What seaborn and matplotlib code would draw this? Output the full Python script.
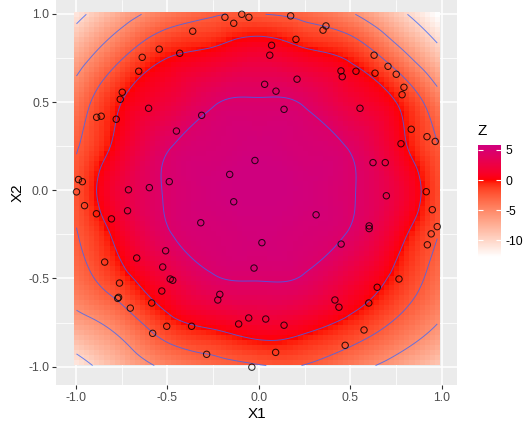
import numpy as np
import pandas as pd
import matplotlib
matplotlib.use("Agg")
import matplotlib.pyplot as plt
import matplotlib.tri as mtri
from matplotlib.colors import ListedColormap, Normalize
import seaborn as sns

# ---------------- data ----------------
X1 = [-0.185, -0.093, -0.054, -0.137, -0.361, -0.544, -0.432, -0.637, -0.656, -0.746,
      -0.757, -0.602, -0.886, -0.861, -0.779, -0.312, -0.450, 0.174, 0.367, 0.351,
      0.203, 0.070, 0.060, 0.630, 0.706, 0.751, 0.449, 0.456, 0.531, 0.635,
      0.209, 0.032, 0.094, 0.793, 0.783, 0.138, 0.553, 0.833, -0.021, -0.159,
      -0.985, -0.964, -0.996, -0.712, -0.598, -0.489, -0.137, -0.952, -0.887, -0.805,
      -0.717, -0.317, -0.509, 0.017, 0.919, 0.964, 0.777, 0.624, 0.691, 0.697,
      0.915, 0.948, 0.975, 0.942, 0.921, 0.313, 0.603, 0.603, 0.450, -0.842,
      -0.667, -0.525, -0.484, -0.470, -0.026, -0.761, -0.771, -0.766, -0.530, -0.213,
      -0.224, -0.702, -0.585, -0.055, -0.110, -0.503, -0.367, -0.580, -0.285, -0.038,
      0.766, 0.647, 0.416, 0.438, 0.601, 0.038, 0.138, 0.575, 0.472, 0.092]
X2 = [0.981, 0.998, 0.981, 0.947, 0.902, 0.800, 0.777, 0.754, 0.675, 0.556,
      0.516, 0.465, 0.414, 0.420, 0.403, 0.425, 0.336, 0.989, 0.932, 0.908,
      0.856, 0.822, 0.766, 0.766, 0.703, 0.658, 0.677, 0.644, 0.675, 0.664,
      0.630, 0.601, 0.562, 0.584, 0.542, 0.459, 0.465, 0.346, 0.169, 0.090,
      0.061, 0.049, -0.009, 0.003, 0.015, 0.049, -0.065, -0.087, -0.133, -0.162,
      -0.116, -0.184, -0.343, -0.297, 0.304, 0.277, 0.264, 0.157, 0.157, -0.031,
      -0.008, -0.110, -0.206, -0.247, -0.309, -0.139, -0.202, -0.217, -0.305, -0.407,
      -0.384, -0.435, -0.503, -0.510, -0.441, -0.526, -0.613, -0.607, -0.571, -0.590,
      -0.622, -0.668, -0.639, -0.724, -0.758, -0.771, -0.771, -0.811, -0.930, -1.003,
      -0.503, -0.550, -0.622, -0.663, -0.639, -0.730, -0.765, -0.792, -0.879, -0.919]

# surface Z read on a coarse grid (rows: X2 from 1.0 down to -1.0; columns: X1 from -1.0 to 1.0)
GRID_X1 = [-1.0, -0.75, -0.5, -0.25, 0.0, 0.25, 0.5, 0.75, 1.0]
GRID_X2 = [1.0, 0.75, 0.5, 0.25, 0.0, -0.25, -0.5, -0.75, -1.0]
Z_GRID = [
    [-11.07, -6.96, -4.15, -2.73, -2.50, -3.18, -5.20, -8.99, -13.20],
    [-6.96, -2.65, 0.00, 1.01, 2.03, 1.00, -0.31, -3.85, -8.99],
    [-4.08, 0.00, 2.10, 4.30, 4.67, 4.30, 2.10, 0.00, -4.75],
    [-2.73, 1.00, 4.30, 5.19, 5.55, 5.19, 4.30, 1.00, -2.73],
    [-2.25, 2.25, 4.67, 5.55, 5.80, 5.55, 4.67, 2.25, -2.25],
    [-2.65, 1.00, 4.30, 5.19, 5.51, 5.19, 4.30, 1.00, -2.73],
    [-3.70, -0.75, 2.10, 4.30, 4.61, 4.30, 2.10, -0.56, -3.93],
    [-6.63, -4.08, -0.75, 0.68, 1.58, 1.00, -0.56, -2.80, -5.73],
    [-11.60, -7.75, -4.98, -3.48, -2.73, -2.65, -4.45, -6.63, -9.44],
]
CONTOUR_LEVELS = [-10.0, -5.5, -2.5, 0.0, 4.5]
X_TICKS = [-1.0, -0.5, 0.0, 0.5, 1.0]
X_TICK_LABELS = ["-1.0", "-0.5", "0.0", "0.5", "1.0"]
Y_TICKS = [-1.0, -0.5, 0.0, 0.5, 1.0]
Y_TICK_LABELS = ["-1.0", "-0.5", "0.0", "0.5", "1.0"]
MINOR_TICKS = [-0.75, -0.25, 0.25, 0.75]
LEGEND_TICKS = [-10, -5, 0, 5]
LEGEND_LABELS = ["-10", "-5", "0", "5"]

# ---------------- colour helpers (Lab interpolation, like ggplot) ----------------
_M = np.array([[0.4124, 0.3576, 0.1805], [0.2126, 0.7152, 0.0722], [0.0193, 0.1192, 0.9505]])
_W = np.array([0.95047, 1.0, 1.08883])


def rgb2lab(rgb):
    rgb = np.asarray(rgb, float)
    lin = np.where(rgb <= 0.04045, rgb / 12.92, ((rgb + 0.055) / 1.055) ** 2.4)
    xyz = lin @ _M.T / _W
    f = np.where(xyz > 0.008856, np.cbrt(xyz), 7.787 * xyz + 16 / 116)
    return np.stack([116 * f[..., 1] - 16, 500 * (f[..., 0] - f[..., 1]), 200 * (f[..., 1] - f[..., 2])], -1)


def lab2rgb(lab):
    lab = np.asarray(lab, float)
    fy = (lab[..., 0] + 16) / 116
    fx = fy + lab[..., 1] / 500
    fz = fy - lab[..., 2] / 200
    f = np.stack([fx, fy, fz], -1)
    xyz = np.where(f ** 3 > 0.008856, f ** 3, (f - 16 / 116) / 7.787) * _W
    lin = xyz @ np.linalg.inv(_M).T
    lin = np.clip(lin, 0, 1)
    rgb = np.where(lin <= 0.0031308, 12.92 * lin, 1.055 * lin ** (1 / 2.4) - 0.055)
    return np.clip(rgb, 0, 1)


LOW, MID, HIGH = rgb2lab([1, 1, 1]), rgb2lab([1, 0, 0]), rgb2lab([0, 0, 1])


def grad2(t):
    t = np.asarray(t)[:, None]
    lo = LOW + (MID - LOW) * np.clip(t / 0.5, 0, 1)
    hi = MID + (HIGH - MID) * np.clip((t - 0.5) / 0.5, 0, 1)
    return lab2rgb(np.where(t <= 0.5, lo, hi))


# ---------------- surface ----------------
gx, gy = np.meshgrid(np.array(GRID_X1), np.array(GRID_X2))
tri = mtri.Triangulation(gx.ravel(), gy.ravel())
interp = mtri.CubicTriInterpolator(tri, np.array(Z_GRID).ravel(), kind="min_E")

x_lo, x_hi = min(X1), max(X1)
y_lo, y_hi = min(X2), max(X2)
n_cells = 72
cx = np.linspace(x_lo, x_hi, n_cells)
cy = np.linspace(y_lo, y_hi, n_cells)
CX, CY = np.meshgrid(cx, cy)
ZR = np.asarray(interp(CX, CY).filled(np.nan))

fx = np.linspace(x_lo, x_hi, 220)
fy = np.linspace(y_lo, y_hi, 220)
FX, FY = np.meshgrid(fx, fy)
ZF = np.asarray(interp(FX, FY).filled(np.nan))

zmin, zmax = np.nanmin(ZR), np.nanmax(ZR)
zabs = max(abs(zmin), abs(zmax))
tt = np.linspace(0.5 + zmin / (2 * zabs), 0.5 + zmax / (2 * zabs), 256)
cmap = ListedColormap(grad2(tt))
norm = Normalize(zmin, zmax)

# ---------------- figure ----------------
sns.set_theme(style="darkgrid")
plt.rcParams["font.family"] = ["Liberation Sans", "DejaVu Sans"]
plt.rcParams["axes.unicode_minus"] = False
plt.rcParams["contour.negative_linestyle"] = "solid"

W, H = 527, 429
fig = plt.figure(figsize=(W / 100, H / 100), dpi=100)
fig.patch.set_facecolor("white")
ax = fig.add_axes([56 / W, (H - 385) / H, 401 / W, 385 / H])
ax.set_facecolor("#EBEBEB")

dx = (cx[1] - cx[0]) / 2
dy = (cy[1] - cy[0]) / 2
im = ax.imshow(ZR, origin="lower", extent=[x_lo - dx, x_hi + dx, y_lo - dy, y_hi + dy],
               cmap=cmap, norm=norm, interpolation="nearest", aspect="auto", zorder=2)
ax.contour(FX, FY, ZF, levels=CONTOUR_LEVELS, colors="#3366FF", linewidths=0.7,
           linestyles="solid", alpha=0.75, zorder=3)

df = pd.DataFrame({"X1": X1, "X2": X2})
sns.scatterplot(data=df, x="X1", y="X2", ax=ax, marker="o", s=21, facecolor="none",
                edgecolor="black", linewidth=0.75, alpha=0.8, zorder=5, legend=False)

ax.set_xlim(-1.108, 1.083)
ax.set_ylim(-1.104, 1.079)
ax.set_xticks(X_TICKS)
ax.set_xticklabels(X_TICK_LABELS)
ax.set_yticks(Y_TICKS)
ax.set_yticklabels(Y_TICK_LABELS)
ax.set_xticks(MINOR_TICKS, minor=True)
ax.set_yticks(MINOR_TICKS, minor=True)
ax.grid(which="major", color="white", linewidth=1.1, zorder=0)
ax.grid(which="minor", color="white", linewidth=0.55, zorder=0)
ax.set_axisbelow(True)
for s in ax.spines.values():
    s.set_visible(False)
ax.tick_params(which="major", bottom=True, left=True, length=2.75, width=0.8,
               color="#333333", labelsize=8.8, labelcolor="#4D4D4D", pad=2.2)
ax.tick_params(which="minor", bottom=False, left=False)
ax.set_xlabel("X1", fontsize=11, color="black", labelpad=2.5)
ax.set_ylabel("X2", fontsize=11, color="black", labelpad=2.5)

# legend colourbar
cax = fig.add_axes([478 / W, (H - 257) / H, 23 / W, 112 / H])
cb = fig.colorbar(im, cax=cax)
cb.outline.set_visible(False)
cb.set_ticks(LEGEND_TICKS)
cb.set_ticklabels(LEGEND_LABELS)
cax.tick_params(length=0, labelsize=8.8, labelcolor="black", pad=3)
cax.grid(False)
for v in LEGEND_TICKS:
    cax.plot([0, 0.2], [v, v], color="white", lw=0.8, solid_capstyle="butt")
    cax.plot([0.8, 1.0], [v, v], color="white", lw=0.8, solid_capstyle="butt")
cax.set_xlim(0, 1)
fig.text(478 / W, 1 - 131 / H, "Z", fontsize=11, ha="left", va="center", color="black")

fig.savefig("out.png", dpi=100)
